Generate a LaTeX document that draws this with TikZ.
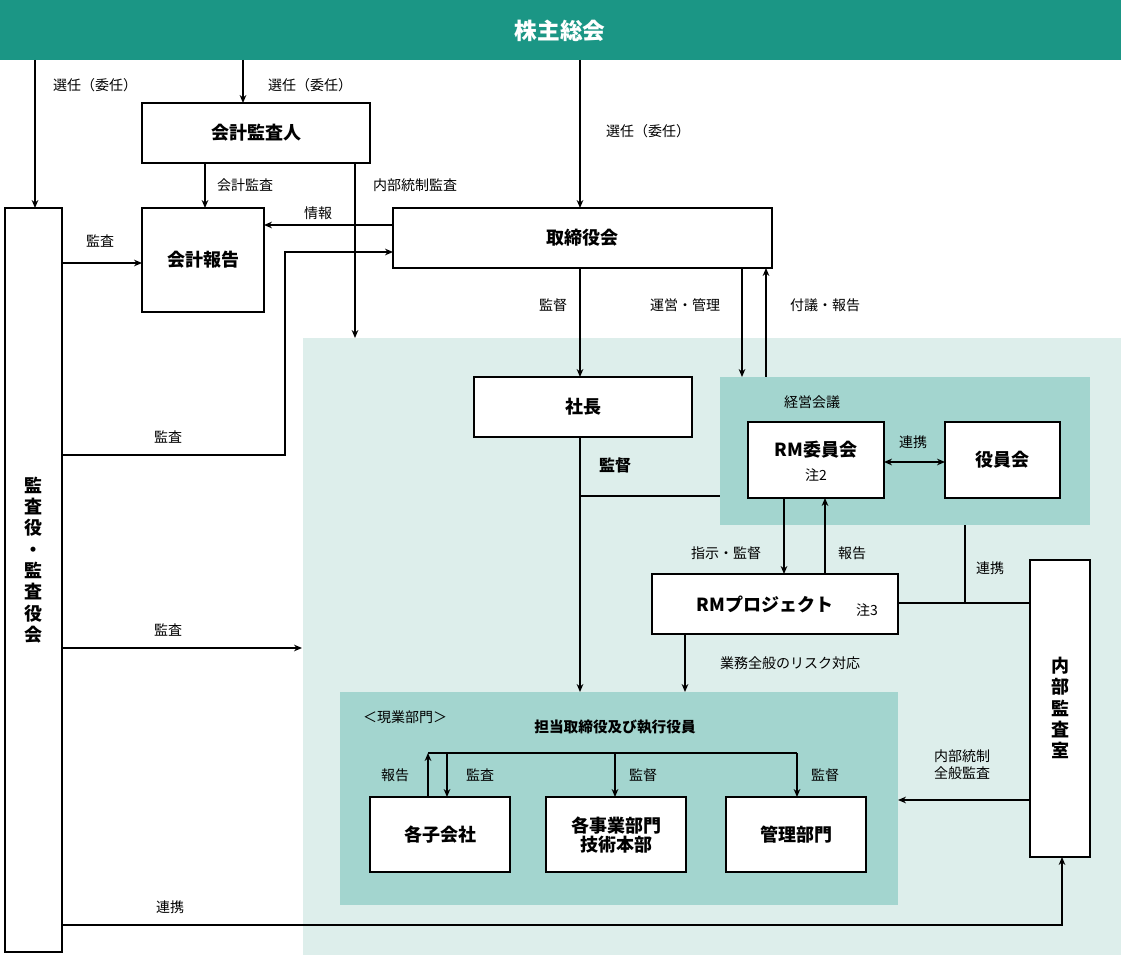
\documentclass[tikz,border=0pt]{standalone}
\usepackage{fontspec}
\setmainfont{Noto Sans CJK JP}
\usetikzlibrary{arrows.meta}
\definecolor{teal1}{RGB}{27,150,133}
\definecolor{lite}{RGB}{221,238,235}
\definecolor{mid}{RGB}{163,213,207}
\begin{document}
\begin{tikzpicture}[x=0.75pt,y=-0.75pt,
  bx/.style={draw=black,line width=0.9pt,fill=white},
  bt/.style={font=\fontsize{13.5}{16}\selectfont\bfseries},
  lb/.style={font=\fontsize{10.5}{13}\selectfont},
  ln/.style={line width=0.9pt},
  ar/.style={line width=0.9pt,-{Stealth[length=6pt,width=5pt]}}]
\useasboundingbox (0,0) rectangle (1121,955);
\fill[lite] (303,338) rectangle (1121,955);
\fill[mid] (720,377) rectangle (1090,525);
\fill[mid] (340,692) rectangle (898,905);
\fill[teal1] (0,0) rectangle (1121,60);
\node[font=\fontsize{17}{20}\selectfont\bfseries,text=white] (soukai) at (560,31) {株主総会};
% boxes
\draw[bx] (142,103) rectangle (370,163); \node[bt] (kansanin) at (256,133) {会計監査人};
\draw[bx] (142,208) rectangle (264,312); \node[bt] (houkoku) at (203,260) {会計報告};
\draw[bx] (393,208) rectangle (772,268); \node[bt] (torishimari) at (582,238) {取締役会};
\draw[bx] (5,208) rectangle (62,952); \node[bt,align=center] (kansayaku) at (33,560) {監\\査\\役\\・\\監\\査\\役\\会};
\draw[bx] (474,377) rectangle (692,437); \node[bt] (shacho) at (583,407) {社長};
\draw[bx] (748,422) rectangle (884,498); \node[bt] (rm) at (816,450) {RM委員会}; \node[lb] (n2) at (816,475) {注2};
\draw[bx] (945,422) rectangle (1060,498); \node[bt] (yakuin) at (1002,460) {役員会};
\draw[bx] (652,574) rectangle (898,634); \node[bt] (rmp) at (765,604) {RMプロジェクト}; \node[lb] (n3) at (867,610) {注3};
\draw[bx] (1030,560) rectangle (1090,857); \node[bt,align=center] (naibu) at (1060,708) {内\\部\\監\\査\\室};
\draw[bx] (370,797) rectangle (510,872); \node[bt] (ko) at (440,835) {各子会社};
\draw[bx] (546,797) rectangle (686,872); \node[bt,align=center] (jigyo) at (616,835) {各事業部門\\[-2pt]技術本部};
\draw[bx] (726,797) rectangle (866,872); \node[bt] (kanri) at (796,835) {管理部門};
% arrows from top
\draw[ar] (35,60) -- (35,208); \node[lb] (l1) at (95,85) {選任（委任）};
\draw[ar] (243,60) -- (243,103); \node[lb] (l2) at (310,85) {選任（委任）};
\draw[ar] (580,60) -- (580,208); \node[lb] (l3) at (648,131) {選任（委任）};
\draw[ar] (205,163) -- (205,208); \node[lb] (l4) at (245,185) {会計監査};
\draw[ar] (355,163) -- (355,338); \node[lb] (l5) at (415,185) {内部統制監査};
\draw[ar] (393,225) -- (264,225); \node[lb] (l6) at (318,213) {情報};
\draw[ar] (62,263) -- (142,263); \node[lb] (l7) at (100,241) {監査};
\draw[ar] (62,455) -- (285,455) -- (285,252) -- (393,252); \node[lb] (l8) at (168,437) {監査};
\draw[ar] (62,648) -- (302,648); \node[lb] (l9) at (168,630) {監査};
\draw[ar] (62,925) -- (1062,925) -- (1062,857); \node[lb] (l10) at (170,907) {連携};
\draw[ar] (580,268) -- (580,377); \node[lb] (l11) at (553,305) {監督};
\draw[ar] (742,268) -- (742,377); \node[lb] (l12) at (685,305) {運営・管理};
\draw[ar] (766,377) -- (766,268); \node[lb] (l13) at (825,305) {付議・報告};
\node[lb] (keiei) at (812,402) {経営会議};
\draw[line width=0.9pt,{Stealth[length=6pt,width=5pt]}-{Stealth[length=6pt,width=5pt]}] (884,462) -- (945,462); \node[lb] (l14) at (913,442) {連携};
\draw[ar] (580,437) -- (580,692); \node[font=\fontsize{12}{14}\selectfont\bfseries] (l15) at (615,465) {監督};
\draw[ln] (580,496) -- (720,496);
\draw[ar] (784,498) -- (784,574); \node[lb] (l16) at (726,553) {指示・監督};
\draw[ar] (825,574) -- (825,498); \node[lb] (l17) at (852,553) {報告};
\draw[ln] (965,525) -- (965,603); \draw[ln] (898,603) -- (1030,603); \node[lb] (l18) at (990,568) {連携};
\draw[ar] (685,634) -- (685,692); \node[lb] (l19) at (790,663) {業務全般のリスク対応};
\node[lb] (gen) at (405,717) {＜現業部門＞};
\node[lb,font=\fontsize{11}{13}\selectfont\bfseries] (tanto) at (615,727) {担当取締役及び執行役員};
\draw[ln] (428,753) -- (797,753);
\draw[ar] (428,797) -- (428,753);
\draw[ar] (447,753) -- (447,797);
\draw[ar] (615,753) -- (615,797);
\draw[ar] (797,753) -- (797,797);
\node[lb] (l20) at (395,775) {報告}; \node[lb] (l21) at (480,775) {監査};
\node[lb] (l22) at (643,775) {監督}; \node[lb] (l23) at (825,775) {監督};
\draw[ar] (1030,800) -- (898,800); \node[lb,align=center] (l24) at (962,765) {内部統制\\全般監査};
\end{tikzpicture}
\end{document}
